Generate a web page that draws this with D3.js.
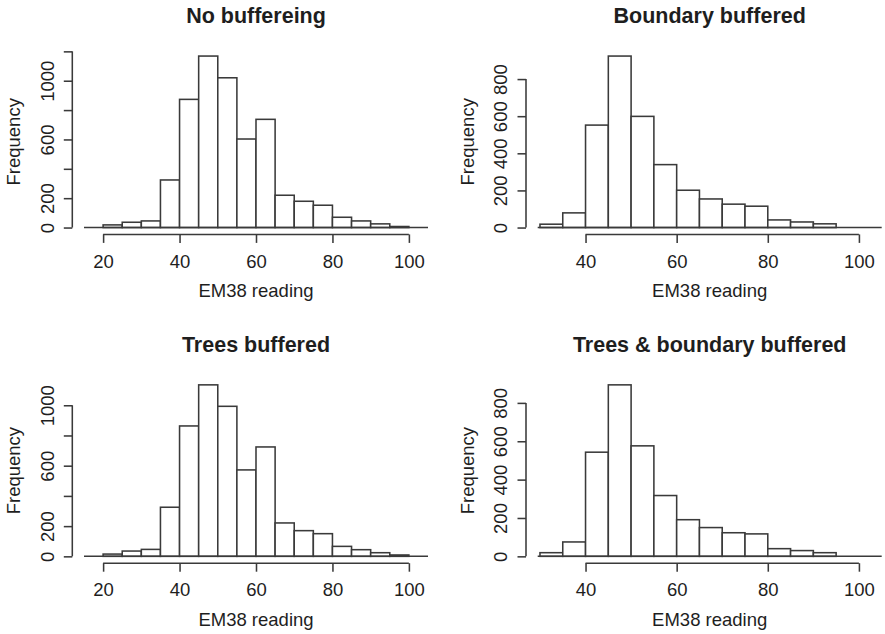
<!DOCTYPE html>
<html>
<head>
<meta charset="utf-8">
<script src="https://cdn.jsdelivr.net/npm/d3@7/dist/d3.min.js"></script>
<style>
  html, body { margin: 0; padding: 0; background: #fff; }
  svg { display: block; }
  text { font-family: "Liberation Sans", Arial, Helvetica, sans-serif; fill: #1e1e1e; }
</style>
</head>
<body>
<svg id="chart" width="885" height="634"></svg>
<script>
// EM38 reading histograms, bins of width 5
const titles = ["No buffereing", "Boundary buffered", "Trees buffered", "Trees & boundary buffered"];

// lower bin edges
const breaksFrom20 = [20, 25, 30, 35, 40, 45, 50, 55, 60, 65, 70, 75, 80, 85, 90, 95];
const breaksFrom30 = [30, 35, 40, 45, 50, 55, 60, 65, 70, 75, 80, 85, 90];
const binWidth = 5;

// bin counts
const noBufferingCounts    = [18, 36, 45, 324, 873, 1168, 1020, 603, 737, 220, 179, 152, 70, 45, 25, 7];
const boundaryCounts       = [18, 79, 552, 924, 599, 339, 201, 154, 126, 115, 41, 30, 20];
const treesCounts          = [15, 35, 46, 325, 863, 1135, 993, 572, 724, 221, 170, 150, 66, 44, 24, 9];
const treesBoundaryCounts  = [19, 75, 543, 894, 576, 317, 191, 150, 123, 117, 40, 30, 19];

// axis ticks
const xTicksFrom20 = [20, 40, 60, 80, 100];
const xTicksFrom40 = [40, 60, 80, 100];
const yTicksTo1200 = [0, 200, 400, 600, 800, 1000, 1200];
const yTicksTo1000 = [0, 200, 400, 600, 800, 1000];
const yTicksTo800  = [0, 200, 400, 600, 800];

// x limits of the plotting region
const xlimFrom15 = [15, 105];
const xlimFrom30 = [29.5, 105];

const xLabel = "EM38 reading";
const yLabel = "Frequency";

const panels = [
  { title: titles[0], breaks: breaksFrom20, counts: noBufferingCounts,   xlim: xlimFrom15, xTicks: xTicksFrom20, yTicks: yTicksTo1200, col: 0, row: 0 },
  { title: titles[1], breaks: breaksFrom30, counts: boundaryCounts,      xlim: xlimFrom30, xTicks: xTicksFrom40, yTicks: yTicksTo800,  col: 1, row: 0 },
  { title: titles[2], breaks: breaksFrom20, counts: treesCounts,         xlim: xlimFrom15, xTicks: xTicksFrom20, yTicks: yTicksTo1000, col: 0, row: 1 },
  { title: titles[3], breaks: breaksFrom30, counts: treesBoundaryCounts, xlim: xlimFrom30, xTicks: xTicksFrom40, yTicks: yTicksTo800,  col: 1, row: 1 }
];

// layout
const colLeft = [84, 537.7];
const plotWidth = 344;
const rowTop = [49.2, 378];
const plotHeight = 185.2;
const axisOffset = 11.7;   // y axis sits slightly left of the plotting region
const tickLen = 8.5;
const lineColor = "#3a3a3a";
const lineWidth = 1.55;
const labelSize = 18.5;
const titleSize = 21.5;

const svg = d3.select("#chart");

// rough text width for label overlap checks (Arial digit width)
function textWidth(s, size) { return s.length * 0.556 * size; }

panels.forEach(p => {
  const left = colLeft[p.col];
  const right = left + plotWidth;
  const top = rowTop[p.row];
  const bottom = top + plotHeight;
  const maxCount = d3.max(p.counts);

  const x = d3.scaleLinear().domain(p.xlim).range([left, right]);
  const y = d3.scaleLinear().domain([-0.04 * maxCount, 1.04 * maxCount]).range([bottom, top]);

  const g = svg.append("g");

  // bars
  g.selectAll("rect.bar")
    .data(p.counts.map((c, i) => ({ x0: p.breaks[i], x1: p.breaks[i] + binWidth, c })))
    .join("rect")
    .attr("class", "bar")
    .attr("x", d => x(d.x0))
    .attr("width", d => x(d.x1) - x(d.x0))
    .attr("y", d => y(d.c))
    .attr("height", d => y(0) - y(d.c))
    .attr("fill", "#fff")
    .attr("stroke", lineColor)
    .attr("stroke-width", lineWidth);

  // zero line across the plotting region
  g.append("line")
    .attr("x1", x(p.xlim[0])).attr("x2", x(p.xlim[1]))
    .attr("y1", y(0)).attr("y2", y(0))
    .attr("stroke", lineColor).attr("stroke-width", lineWidth);

  // x axis
  const xAxis = d3.axisBottom(x).tickValues(p.xTicks).tickSize(tickLen).tickSizeOuter(0).tickPadding(10);
  const gx = g.append("g").attr("transform", `translate(0,${bottom})`).call(xAxis);
  gx.select(".domain")
    .attr("d", `M${x(p.xTicks[0])},0H${x(p.xTicks[p.xTicks.length - 1])}`);
  gx.selectAll("path, line").attr("stroke", lineColor).attr("stroke-width", lineWidth);
  gx.selectAll("text")
    .attr("font-size", labelSize)
    .attr("fill", "#1e1e1e")
    .attr("font-family", "Liberation Sans, Arial, sans-serif")
    .attr("dy", null)
    .attr("y", 33.3);

  // y axis, labels parallel to the axis; overlapping labels are dropped
  const axisX = left - axisOffset;
  const yAxis = d3.axisLeft(y).tickValues(p.yTicks).tickSize(tickLen).tickSizeOuter(0).tickFormat(d3.format("d"));
  const gy = g.append("g").attr("transform", `translate(${axisX},0)`).call(yAxis);
  gy.select(".domain")
    .attr("d", `M0,${y(p.yTicks[0])}V${y(p.yTicks[p.yTicks.length - 1])}`);
  gy.selectAll("path, line").attr("stroke", lineColor).attr("stroke-width", lineWidth);

  const gap = 0.25 * 0.833 * labelSize;
  let lastTop = Infinity;
  gy.selectAll(".tick").each(function (d) {
    const t = d3.select(this).select("text");
    const s = String(d);
    const half = textWidth(s, labelSize) / 2;
    const cy = y(d);
    if (cy + half + gap <= lastTop) {
      lastTop = cy - half;
      t.attr("font-size", labelSize)
        .attr("fill", "#1e1e1e")
        .attr("font-family", "Liberation Sans, Arial, sans-serif")
        .attr("text-anchor", "middle")
        .attr("x", null).attr("dy", null)
        .attr("transform", `translate(${-tickLen - 10.2},0) rotate(-90)`)
        .attr("y", 0);
    } else {
      t.remove();
    }
  });

  // title
  g.append("text")
    .attr("x", (left + right) / 2)
    .attr("y", top - 26.3)
    .attr("text-anchor", "middle")
    .attr("font-size", titleSize)
    .attr("font-weight", "bold")
    .text(p.title);

  // axis titles
  g.append("text")
    .attr("x", (left + right) / 2)
    .attr("y", bottom + 62.5)
    .attr("text-anchor", "middle")
    .attr("font-size", labelSize)
    .text(xLabel);

  g.append("text")
    .attr("transform", `translate(${axisX - 52},${(top + bottom) / 2}) rotate(-90)`)
    .attr("text-anchor", "middle")
    .attr("font-size", labelSize)
    .text(yLabel);
});
</script>
</body>
</html>
